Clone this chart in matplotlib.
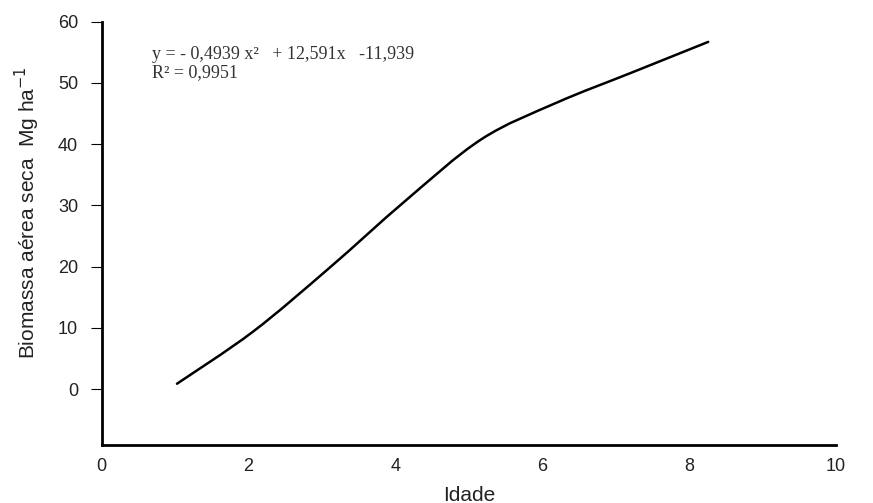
import numpy as np
import matplotlib.pyplot as plt
from matplotlib.path import Path
from matplotlib.patches import PathPatch

plt.rcParams['font.family'] = ['Liberation Sans', 'DejaVu Sans']

# points (curve drawn as a smoothed line through them)
idade = [1.025, 2.06, 3.10, 4.13, 5.17, 6.20, 7.22, 8.26]
biomassa = [0.9, 9.4, 19.8, 30.7, 40.8, 46.8, 51.7, 56.7]

xticks = [0, 2, 4, 6, 8, 10]
yticks = [0, 10, 20, 30, 40, 50, 60]
eq_lines = ["y = - 0,4939 x²   + 12,591x   -11,939", "R² = 0,9951"]


def smooth_path(x, y):
    # spreadsheet-style smoothed line: cubic bezier with catmull-rom tangents
    pts = np.column_stack([x, y])
    n = len(pts)
    verts = [pts[0]]
    codes = [Path.MOVETO]
    for i in range(n - 1):
        p0 = pts[i - 1] if i > 0 else pts[i]
        p1 = pts[i]
        p2 = pts[i + 1]
        p3 = pts[i + 2] if i + 2 < n else pts[i + 1]
        c1 = p1 + (p2 - p0) / 6.0
        c2 = p2 - (p3 - p1) / 6.0
        verts += [c1, c2, p2]
        codes += [Path.CURVE4] * 3
    return Path(verts, codes)


fig = plt.figure(figsize=(8.73, 5.03), dpi=100)
ax = fig.add_axes([0.1165, 0.1153, 0.8411, 0.8416])

ax.add_patch(PathPatch(smooth_path(idade, biomassa), facecolor='none',
                       edgecolor='black', linewidth=1.8, capstyle='round'))

ax.set_xlim(0, 10)
ax.set_ylim(-9.1, 60)
ax.set_xticks(xticks)
ax.set_yticks(yticks)
ax.tick_params(axis='x', length=0, pad=9, labelsize=13, labelcolor='#222222')
ax.tick_params(axis='y', length=8, width=0.8, pad=9, labelsize=13, labelcolor='#222222')

for s in ['top', 'right']:
    ax.spines[s].set_visible(False)
for s in ['left', 'bottom']:
    ax.spines[s].set_linewidth(2)

ax.set_xlabel('Idade', fontsize=15, color='#222222', labelpad=8)
fig.text(27 / 873, 1 - 213 / 503, 'Biomassa aérea seca  Mg ha$^{-1}$', rotation=90,
         ha='center', va='center', fontsize=15, color='#222222')

ax.text(0.685, 53.9, eq_lines[0], family='Liberation Serif', fontsize=13,
        va='baseline', ha='left', color='#333333')
ax.text(0.685, 51.0, eq_lines[1], family='Liberation Serif', fontsize=13,
        va='baseline', ha='left', color='#333333')

fig.savefig('out.png', dpi=100)
